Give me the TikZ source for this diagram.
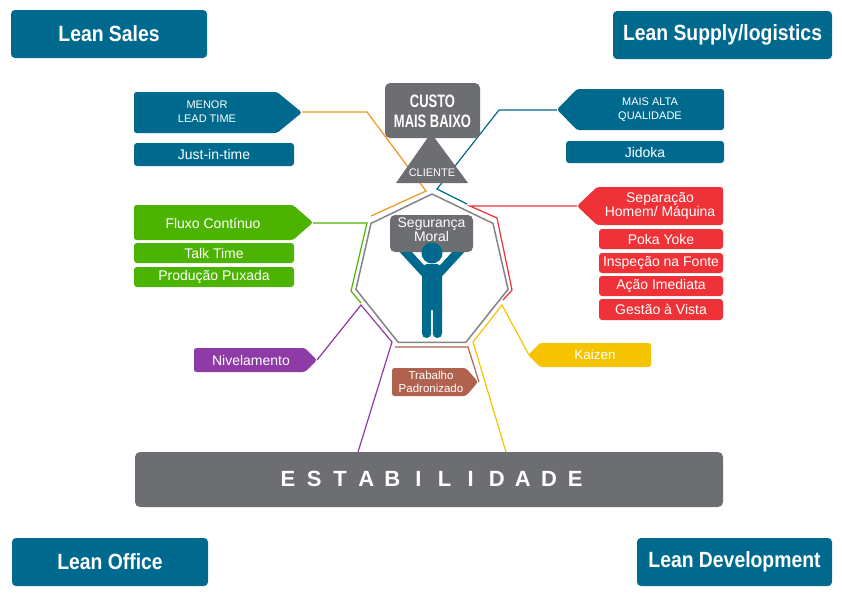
\documentclass[tikz,border=0pt]{standalone}
\usepackage{fontspec}
\setmainfont{Liberation Sans}
\newfontfamily\leanfont{Liberation Sans}[FakeStretch=0.88]
\newfontfamily\custofont{Liberation Sans}[FakeStretch=0.72]
\definecolor{leanblue}{HTML}{006A8E}
\definecolor{boxgray}{HTML}{6D6E71}
\definecolor{heptgray}{HTML}{858585}
\definecolor{greenc}{HTML}{4CB400}
\definecolor{redc}{HTML}{EE3237}
\definecolor{purplec}{HTML}{8F3BA7}
\definecolor{yellowc}{HTML}{F6C300}
\definecolor{brownc}{HTML}{B1624F}
\definecolor{orangec}{HTML}{F7941D}
\newcommand\tagR[6]{\fill[#6, rounded corners=2.5pt] (#1,#4) -- (#2,#4) -- (#3,{(#4+#5)/2}) -- (#2,#5) -- (#1,#5) -- cycle;}
\newcommand\tagL[6]{\fill[#6, rounded corners=2.5pt] (#2,#4) -- (#3,#4) -- (#3,#5) -- (#2,#5) -- (#1,{(#4+#5)/2}) -- cycle;}
\tikzset{
  txt/.style={text=white, inner sep=0pt, align=center},
  conn/.style={line width=1.2pt, line join=miter},
  leanbox/.style={fill=leanblue, rounded corners=4pt, text=white, inner sep=0pt,
     font=\leanfont\fontsize{22}{26}\selectfont\bfseries, minimum height=48pt},
  smallbox/.style={rounded corners=3pt, text=white, inner sep=0pt,
     font=\fontsize{14}{16}\selectfont, minimum height=20pt},
  hept/.style={draw=heptgray, line width=1.5pt},
}
\begin{document}
\begin{tikzpicture}[x=1pt,y=-1pt]
\useasboundingbox (0,0) rectangle (842,595);
\fill[white] (0,0) rectangle (842,595);

% connector end points
\coordinate (lt) at (302,112);
\coordinate (qt) at (557,110);
\coordinate (st) at (577,206);
\coordinate (ft) at (313,223);
\coordinate (nt) at (317,360);
\coordinate (tt) at (479,382);
\coordinate (kt) at (529,355);
\coordinate (pend) at (358,452);
\coordinate (yend) at (506,452);
\coordinate (bstart) at (395,347);

% connectors
\draw[conn, orangec] (lt) -- (367,112) -- (426,191) -- (371,216);
\draw[conn, leanblue] (qt) -- (499,110) -- (437,189) -- (467,204);
\draw[conn, redc] (st) -- (470,206) -- (497,218) -- (512,290) -- (503,300);
\draw[conn, greenc] (ft) -- (367,223) -- (351,291) -- (361,303);
\draw[conn, purplec] (nt) -- (361,305) -- (392,342) -- (pend);
\draw[conn, brownc] (bstart) -- (468,347) -- (tt);
\draw[conn, yellowc] (kt) -- (502,305) -- (473,342) -- (yend);

% heptagon
\draw[hept, shift={(432,272)}] (-90:78) \foreach \k in {1,...,6} { -- ({-90+\k*360/7}:78) } -- cycle;

% corner boxes
\node[leanbox, minimum width=196pt] (sales) at (109,34) {Lean Sales};
\node[leanbox, minimum width=219pt] (supply) at (722.5,35) {Lean Supply/logistics};
\node[leanbox, minimum width=196pt] (office) at (110,562) {Lean Office};
\node[leanbox, minimum width=195pt] (devel) at (734.5,562) {Lean Development};

% custo / cliente
\fill[boxgray] (431,133) -- (468,183) -- (396,183) -- cycle;
\fill[boxgray, rounded corners=5pt] (385,83) rectangle (480,138);
\node[txt, font=\custofont\fontsize{18}{20}\selectfont\bfseries] (custo) at (432.5,111) {CUSTO\\MAIS BAIXO};
\node[txt, font=\fontsize{11}{13}\selectfont] (cliente) at (432,173) {CLIENTE};

% person
\draw[leanblue, line width=9pt] (403,249) -- (426,274);
\draw[leanblue, line width=9pt] (461,249) -- (438,274);
\fill[boxgray, rounded corners=5pt] (390,215) rectangle (473,252);
\node[txt, font=\fontsize{14}{14}\selectfont] (seg) at (431.5,229.5) {Segurança\\Moral};
\fill[leanblue, rounded corners=5pt] (422,264) rectangle (442,310);
\fill[leanblue, rounded corners=4.5pt] (422,298) rectangle (431.2,338);
\fill[leanblue, rounded corners=4.5pt] (432.8,298) rectangle (442,338);
\fill[leanblue] (432,253) circle (10.5);

% blue group left
\tagR{134}{277}{302}{92}{133}{leanblue}
\node[txt, font=\fontsize{11}{14}\selectfont] (menor) at (207,112) {MENOR\\LEAD TIME};
\node[smallbox, fill=leanblue, minimum width=160pt, minimum height=23pt] (jit) at (214,154.5) {Just-in-time};

% blue group right
\tagL{557}{577}{724}{89}{130}{leanblue}
\node[txt, font=\fontsize{11}{14}\selectfont] (qual) at (650,109.5) {MAIS ALTA\\QUALIDADE};
\node[smallbox, fill=leanblue, minimum width=158pt, minimum height=22pt] (jid) at (645,152) {Jidoka};

% green group
\tagR{134}{293}{313}{205}{240}{greenc}
\node[txt, font=\fontsize{14}{16}\selectfont] (fluxo) at (213,223) {Fluxo Contínuo};
\node[smallbox, fill=greenc, minimum width=160pt] (talk) at (214,253) {Talk Time};
\node[smallbox, fill=greenc, minimum width=160pt] (prod) at (214,277) {Produção Puxada};

% red group
\tagL{577}{597}{723}{187}{225}{redc}
\node[txt, font=\fontsize{14}{14.5}\selectfont] (sep) at (660,206) {Separação\\Homem/ Máquina};
\node[smallbox, fill=redc, minimum width=124pt] (poka) at (661,239) {Poka Yoke};
\node[smallbox, fill=redc, minimum width=124pt] (insp) at (661,263) {Inspeção na Fonte};
\node[smallbox, fill=redc, minimum width=124pt] (acao) at (661,286) {Ação Imediata};
\node[smallbox, fill=redc, minimum width=124pt, minimum height=21pt] (gest) at (661,309.5) {Gestão à Vista};

% purple
\tagR{194}{305}{317}{348}{372}{purplec}
\node[txt, font=\fontsize{14}{16}\selectfont] (nivel) at (251,360) {Nivelamento};

% yellow
\tagL{528}{540}{651}{343}{367}{yellowc}
\node[txt, font=\fontsize{13.5}{16}\selectfont] (kaizen) at (595,355) {Kaizen};

% brown
\tagR{392}{466}{478}{368}{396}{brownc}
\node[txt, font=\fontsize{11.5}{13.5}\selectfont] (trab) at (431,382) {Trabalho\\Padronizado};

% estabilidade
\fill[boxgray, rounded corners=5pt] (135,452) rectangle (723,507);
\node[inner sep=0pt] (estab) at (429,479.5) {};
\foreach \l [count=\i from 0] in {E,S,T,A,B,I,L,I,D,A,D,E} {
  \node[text=white, inner sep=0pt, anchor=base, font=\fontsize{22}{24}\selectfont\bfseries] (est\i) at ({288+\i*26.1},486) {\l};
}
\end{tikzpicture}
\end{document}
